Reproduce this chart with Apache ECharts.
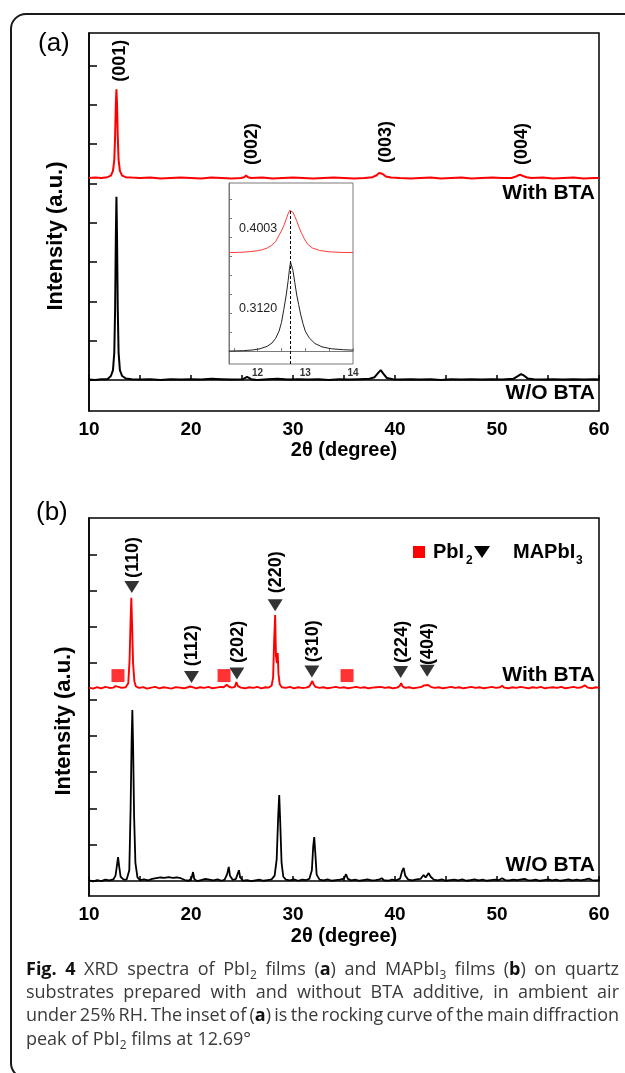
<!DOCTYPE html>
<html>
<head>
<meta charset="utf-8">
<script src="https://cdn.jsdelivr.net/npm/echarts@6/dist/echarts.min.js"></script>
<style>
  html, body { margin: 0; padding: 0; background: #fff; }
  #chart { width: 625px; height: 1073px; }
</style>
</head>
<body>
<div id="chart"></div>
<script>
// ---------- data: (a) PbI2 films, [2θ, intensity offset units] ----------
const pbi2WithBTA = [
  [10.0,5.14],[10.6,5.15],[11.2,5.14],[11.8,5.16],[12.15,5.2],[12.35,5.32],[12.48,5.6],[12.56,6.2],[12.63,7.0],[12.69,7.40],
  [12.75,7.0],[12.82,6.2],[12.9,5.6],[13.03,5.32],[13.25,5.2],[13.6,5.16],[14.2,5.15],[15.0,5.14],[16.0,5.15],[17.0,5.13],
  [18.0,5.14],[19.0,5.15],[20.0,5.14],[21.0,5.13],[22.0,5.15],[23.0,5.14],[24.0,5.13],[24.9,5.14],[25.2,5.16],[25.4,5.20],
  [25.6,5.16],[25.9,5.14],[27.0,5.15],[28.0,5.13],[29.0,5.14],[30.0,5.15],[31.0,5.14],[32.0,5.13],[33.0,5.14],[34.0,5.15],
  [35.0,5.14],[36.0,5.13],[37.0,5.14],[37.8,5.16],[38.2,5.21],[38.45,5.27],[38.6,5.29],[38.8,5.24],[39.1,5.18],[39.6,5.15],
  [40.5,5.14],[41.5,5.13],[42.5,5.14],[43.5,5.15],[44.5,5.13],[45.5,5.14],[46.5,5.15],[47.5,5.13],[48.5,5.14],[49.5,5.15],
  [50.5,5.14],[51.4,5.14],[51.8,5.17],[52.1,5.21],[52.3,5.22],[52.55,5.19],[52.9,5.16],[53.4,5.14],[54.5,5.15],[55.5,5.13],
  [56.5,5.14],[57.5,5.15],[58.5,5.13],[59.5,5.14],[60.0,5.14]
];
const pbi2WithoutBTA = [
  [10.0,0.01],[10.6,0.0],[11.2,0.02],[11.8,0.02],[12.15,0.1],[12.35,0.25],[12.48,0.7],[12.56,1.8],[12.63,3.6],[12.69,4.66],
  [12.75,3.6],[12.82,1.8],[12.9,0.7],[13.03,0.25],[13.25,0.1],[13.6,0.04],[14.2,0.02],[15.0,0.01],[16.0,0.02],[17.0,0.0],
  [18.0,0.02],[19.0,0.01],[20.0,0.02],[21.0,0.01],[22.0,0.03],[23.0,0.02],[24.0,0.01],[25.1,0.02],[25.5,0.08],[25.9,0.02],
  [26.5,0.0],[27.5,0.02],[28.5,0.03],[29.5,0.01],[30.5,0.02],[31.5,0.01],[32.5,0.02],[33.5,0.0],[34.5,0.02],[35.5,0.01],
  [36.5,0.02],[37.5,0.03],[38.0,0.07],[38.35,0.18],[38.6,0.25],[38.85,0.16],[39.2,0.05],[39.8,0.02],[40.5,0.01],[41.5,0.02],
  [42.5,0.01],[43.5,0.02],[44.5,0.0],[45.5,0.02],[46.5,0.01],[47.5,0.02],[48.5,0.01],[49.5,0.02],[50.5,0.01],[51.6,0.03],
  [52.0,0.09],[52.35,0.15],[52.6,0.12],[53.0,0.04],[53.6,0.02],[54.5,0.01],[55.5,0.02],[56.5,0.01],[57.5,0.02],[58.5,0.01],
  [59.5,0.02],[60.0,0.01]
];
// (a) reflection labels: [2θ, label bottom, text]
const pbi2Reflections = [[13.05,7.59,'(001)'],[25.98,5.47,'(002)'],[39.1,5.52,'(003)'],[52.45,5.47,'(004)']];

// ---------- inset: rocking curve of the 12.69° peak ----------
const rockingPeak = 12.69;
const rockingWithBTA = [
  [11.4,5.18],[11.6,5.19],[11.8,5.22],[12.0,5.28],[12.1,5.33],[12.2,5.42],[12.3,5.57],[12.38,5.76],[12.45,6.1],[12.5,6.32],
  [12.55,6.6],[12.6,6.95],[12.64,7.22],[12.67,7.4],[12.69,7.47],[12.71,7.42],[12.74,7.3],[12.78,7.08],[12.82,6.85],[12.87,6.5],
  [12.92,6.2],[12.98,5.9],[13.05,5.62],[13.15,5.42],[13.3,5.29],[13.5,5.22],[13.75,5.19],[14.0,5.18]
];
const rockingWithoutBTA = [
  [11.4,0.0],[11.7,0.02],[11.9,0.06],[12.05,0.12],[12.2,0.25],[12.3,0.42],[12.38,0.68],[12.45,1.05],[12.5,1.5],[12.55,2.2],
  [12.6,2.95],[12.64,3.7],[12.67,4.35],[12.69,4.68],[12.71,4.6],[12.74,4.25],[12.78,3.6],[12.82,2.95],[12.86,2.45],[12.9,1.95],
  [12.95,1.45],[13.0,1.05],[13.08,0.7],[13.2,0.4],[13.35,0.22],[13.55,0.12],[13.8,0.07],[14.0,0.05]
];
// FWHM notes: [2θ, y, text]
const rockingFwhm = [[11.61,6.42,'0.4003'],[11.61,2.26,'0.3120']];

// ---------- data: (b) MAPbI3 films ----------
const mapbi3WithBTA = [
  [10.0,5.33],[10.4,5.30],[10.8,5.34],[11.2,5.31],[11.6,5.35],[12.0,5.32],[12.4,5.33],[12.6,5.37],[12.75,5.41],[12.9,5.35],
  [13.2,5.32],[13.6,5.34],[13.85,5.45],[13.98,6.1],[14.08,7.2],[14.15,7.80],[14.22,7.1],[14.32,6.0],[14.45,5.5],[14.6,5.36],
  [14.9,5.32],[15.3,5.34],[15.7,5.30],[16.1,5.33],[16.5,5.35],[16.9,5.31],[17.3,5.34],[17.7,5.32],[18.1,5.30],[18.5,5.34],
  [18.9,5.33],[19.3,5.31],[19.7,5.34],[19.9,5.36],[20.0,5.41],[20.15,5.34],[20.5,5.31],[20.9,5.34],[21.3,5.32],[21.7,5.35],
  [22.1,5.31],[22.5,5.33],[22.9,5.35],[23.2,5.34],[23.5,5.41],[23.7,5.36],[24.0,5.33],[24.3,5.35],[24.45,5.48],[24.6,5.37],
  [24.9,5.33],[25.3,5.31],[25.7,5.34],[26.1,5.32],[26.5,5.35],[26.9,5.31],[27.3,5.34],[27.6,5.33],[27.9,5.38],[28.05,5.6],
  [28.15,6.6],[28.25,7.33],[28.33,6.2],[28.42,6.0],[28.5,6.28],[28.58,5.7],[28.7,5.42],[28.9,5.34],[29.3,5.32],[29.7,5.35],
  [30.1,5.31],[30.5,5.34],[30.9,5.32],[31.3,5.33],[31.6,5.36],[31.78,5.45],[31.9,5.51],[32.02,5.42],[32.2,5.35],[32.6,5.32],
  [33.0,5.34],[33.4,5.31],[33.8,5.33],[34.2,5.35],[34.6,5.32],[35.0,5.34],[35.4,5.31],[35.8,5.33],[36.2,5.35],[36.6,5.32],
  [37.0,5.34],[37.4,5.31],[37.8,5.33],[38.2,5.34],[38.6,5.35],[39.0,5.32],[39.4,5.34],[39.8,5.31],[40.2,5.33],[40.45,5.37],
  [40.6,5.45],[40.75,5.36],[41.0,5.32],[41.4,5.34],[41.8,5.31],[42.2,5.33],[42.6,5.35],[42.85,5.39],[43.0,5.37],[43.25,5.40],
  [43.5,5.35],[43.9,5.32],[44.3,5.34],[44.7,5.31],[45.1,5.33],[45.5,5.35],[45.9,5.32],[46.3,5.34],[46.7,5.31],[47.1,5.33],
  [47.5,5.35],[47.9,5.32],[48.3,5.34],[48.7,5.31],[49.1,5.33],[49.5,5.35],[49.9,5.32],[50.3,5.34],[50.5,5.38],[50.7,5.33],
  [51.1,5.31],[51.5,5.34],[51.9,5.32],[52.3,5.35],[52.7,5.33],[53.1,5.31],[53.5,5.34],[53.9,5.32],[54.3,5.35],[54.7,5.31],
  [55.1,5.33],[55.5,5.34],[55.9,5.32],[56.3,5.35],[56.7,5.31],[57.1,5.33],[57.5,5.35],[57.9,5.32],[58.3,5.34],[58.6,5.39],
  [58.9,5.33],[59.3,5.31],[59.7,5.34],[60.0,5.32]
];
const mapbi3WithoutBTA = [
  [10.0,0.02],[10.4,-0.01],[10.8,0.03],[11.2,0.0],[11.6,0.04],[12.0,0.02],[12.4,0.05],[12.6,0.15],[12.75,0.45],[12.85,0.66],
  [12.95,0.42],[13.1,0.12],[13.4,0.04],[13.7,0.05],[13.95,0.3],[14.08,2.0],[14.18,3.9],[14.25,4.71],[14.32,3.8],[14.42,1.8],
  [14.55,0.5],[14.75,0.1],[15.0,0.03],[15.4,0.05],[15.8,0.02],[16.2,0.06],[16.6,0.08],[17.0,0.1],[17.4,0.09],[17.8,0.11],
  [18.2,0.09],[18.6,0.1],[19.0,0.08],[19.4,0.03],[19.8,0.01],[20.05,0.08],[20.2,0.25],[20.32,0.06],[20.6,0.0],[21.0,0.03],
  [21.4,0.06],[21.8,0.04],[22.2,0.02],[22.6,0.05],[23.0,0.01],[23.3,0.04],[23.55,0.2],[23.7,0.39],[23.82,0.15],[24.1,0.03],
  [24.4,0.06],[24.6,0.22],[24.7,0.30],[24.82,0.1],[25.1,0.01],[25.5,0.03],[25.9,0.0],[26.3,0.02],[26.7,0.04],[27.1,0.01],
  [27.5,0.03],[27.9,0.05],[28.2,0.15],[28.4,0.6],[28.55,1.8],[28.65,2.37],[28.75,1.6],[28.88,0.5],[29.05,0.12],[29.3,0.04],
  [29.7,0.02],[30.1,0.05],[30.5,0.01],[30.9,0.04],[31.3,0.03],[31.6,0.06],[31.85,0.3],[31.98,0.95],[32.08,1.21],[32.18,0.8],
  [32.32,0.18],[32.6,0.04],[33.0,0.02],[33.4,0.05],[33.8,0.01],[34.2,0.03],[34.6,0.04],[35.0,0.07],[35.2,0.19],[35.38,0.06],
  [35.7,0.02],[36.1,0.04],[36.5,0.01],[36.9,0.03],[37.3,0.05],[37.7,0.02],[38.1,0.03],[38.5,0.05],[38.7,0.08],[38.9,0.03],
  [39.3,0.01],[39.7,0.04],[40.1,0.02],[40.5,0.07],[40.7,0.28],[40.85,0.36],[41.0,0.15],[41.3,0.04],[41.7,0.02],[42.1,0.05],
  [42.5,0.06],[42.8,0.17],[43.0,0.1],[43.3,0.22],[43.5,0.12],[43.8,0.04],[44.2,0.02],[44.6,0.05],[45.0,0.01],[45.4,0.03],
  [45.8,0.04],[46.2,0.02],[46.6,0.05],[47.0,0.01],[47.4,0.03],[47.8,0.05],[48.2,0.02],[48.6,0.04],[49.0,0.01],[49.4,0.03],
  [49.8,0.04],[50.2,0.03],[50.5,0.08],[50.8,0.03],[51.2,0.02],[51.6,0.04],[52.0,0.03],[52.4,0.05],[52.7,0.06],[53.0,0.03],
  [53.4,0.02],[53.8,0.04],[54.2,0.01],[54.6,0.03],[55.0,0.05],[55.4,0.02],[55.8,0.04],[56.2,0.01],[56.6,0.03],[57.0,0.05],
  [57.4,0.02],[57.8,0.04],[58.2,0.02],[58.6,0.04],[59.0,0.07],[59.3,0.03],[59.7,0.02],[60.0,0.03]
];
// phase markers [2θ, y]
const pbi2Marks = [[12.84,5.66],[23.24,5.66],[35.3,5.66]];
const mapbi3Marks = [[14.2,8.10],[20.05,5.62],[24.5,5.72],[28.25,7.60],[31.85,5.77],[40.55,5.76],[43.15,5.79]];
// (b) reflection labels: [2θ, label bottom, text]
const mapbi3Reflections = [[14.3,8.35,'(110)'],[20.12,5.92,'(112)'],[24.58,6.01,'(202)'],[28.32,7.93,'(220)'],
  [31.95,6.03,'(310)'],[40.7,6.01,'(224)'],[43.28,5.95,'(404)']];

// axis ranges and tick positions
const twoThetaRange = [10, 60];
const panelAIntensityRange = [-0.79, 8.83];
const panelATicks = [0, 1, 2, 3, 4, 5, 6, 7, 8];
const insetTwoThetaRange = [11.4, 14];
const insetTwoThetaTicks = [11.5, 12, 12.5, 13, 13.5, 14];
const insetTwoThetaLabels = [12, 13, 14];
const insetIntensityRange = [-0.68, 8.84];
const insetTicks = [0, 1, 2, 3, 4, 5, 6, 7, 8];
const panelBIntensityRange = [-0.41, 10];
const panelBTicks = [0, 1, 2, 3, 4, 5, 6, 7, 8, 9];

// caption runs: r = regular, b = bold, s = subscript
const captionLines = [
  [['b', 'Fig. 4'], ['r', ' XRD spectra of PbI'], ['s', '2'], ['r', ' films ('], ['b', 'a'], ['r', ') and MAPbI'], ['s', '3'],
   ['r', ' films ('], ['b', 'b'], ['r', ') on quartz']],
  [['r', 'substrates prepared with and without BTA additive, in ambient air']],
  [['r', 'under 25% RH. The inset of ('], ['b', 'a'], ['r', ') is the rocking curve of the main diffraction']],
  [['r', 'peak of PbI'], ['s', '2'], ['r', ' films at 12.69°']]
];

// ---------- styling ----------
const FONT = '"Liberation Sans", Arial, Helvetica, sans-serif';
const CAPTION_FONT = '"Open Sans", "Noto Sans", sans-serif';
const RED = '#ff0000';
const CAPTION = { left: 26, top: 958, width: 593, lineHeight: 23.3, size: 18, subSize: 12 };

function twoThetaAxis(gridIndex, nameGap) {
  return {
    gridIndex, type: 'value', min: twoThetaRange[0], max: twoThetaRange[1], interval: 5,
    axisLine: { lineStyle: { color: '#000', width: 1.5 } },
    axisTick: { inside: true, length: 5, lineStyle: { color: '#000', width: 1.5 } },
    axisLabel: { margin: 9, color: '#000', fontFamily: FONT, fontWeight: 'bold', fontSize: 19,
      formatter: v => (v % 10 === 0 ? String(v) : '') },
    splitLine: { show: false },
    name: '2θ (degree)', nameLocation: 'middle', nameGap,
    nameTextStyle: { color: '#000', fontFamily: FONT, fontWeight: 'bold', fontSize: 20 }
  };
}
function intensityAxis(gridIndex, range, ticks, tickLen, color) {
  return {
    gridIndex, type: 'value', min: range[0], max: range[1],
    axisLine: { lineStyle: { color, width: color === '#000' ? 1.5 : 1 } },
    axisTick: { inside: true, length: tickLen, customValues: ticks, lineStyle: { color, width: color === '#000' ? 1.5 : 1 } },
    axisLabel: { show: false },
    splitLine: { show: false }
  };
}
function spectrum(name, data, color, xi, width) {
  return { name, type: 'line', xAxisIndex: xi, yAxisIndex: xi, data, showSymbol: false, symbol: 'none',
    lineStyle: { color, width }, itemStyle: { color }, z: 3, silent: true };
}
// text placed at data points; rotated labels read upward from the point
function textSeries(data, xi, textStyle, rotated) {
  return { type: 'custom', coordinateSystem: 'cartesian2d', xAxisIndex: xi, yAxisIndex: xi, z: 5, silent: true,
    data: data.map(d => [d[0], d[1]]),
    renderItem: (params, api) => {
      const p = api.coord([api.value(0), api.value(1)]);
      return { type: 'text', x: p[0], y: p[1], rotation: rotated ? Math.PI / 2 : 0,
        style: Object.assign({ text: data[params.dataIndex][2], align: 'left', verticalAlign: 'middle' }, textStyle) };
    } };
}

// justified caption: each word becomes a rich text element, gaps stretched to the block width
function captionGraphics() {
  const ctx = document.createElement('canvas').getContext('2d');
  const fonts = {
    r: `${CAPTION.size}px ${CAPTION_FONT}`,
    b: `bold ${CAPTION.size}px ${CAPTION_FONT}`,
    s: `${CAPTION.subSize}px ${CAPTION_FONT}`
  };
  const measure = (style, t) => { ctx.font = fonts[style]; return ctx.measureText(t).width; };
  const rich = {
    r: { fontFamily: CAPTION_FONT, fontSize: CAPTION.size, fill: '#3a3a3a', lineHeight: CAPTION.lineHeight },
    b: { fontFamily: CAPTION_FONT, fontSize: CAPTION.size, fontWeight: 'bold', fill: '#111', lineHeight: CAPTION.lineHeight },
    s: { fontFamily: CAPTION_FONT, fontSize: CAPTION.subSize, fill: '#3a3a3a', lineHeight: 10, verticalAlign: 'bottom' }
  };
  const out = [];
  captionLines.forEach((runs, li) => {
    const words = [[]];
    runs.forEach(([style, text]) => {
      text.split(' ').forEach((part, i) => {
        if (i > 0) words.push([]);
        if (part) words[words.length - 1].push([style, part]);
      });
    });
    const ws = words.filter(w => w.length);
    const widths = ws.map(w => w.reduce((s, [st, t]) => s + measure(st, t), 0));
    const total = widths.reduce((a, b) => a + b, 0);
    const last = li === captionLines.length - 1;
    const gap = last ? measure('r', ' ') : (CAPTION.width - total) / (ws.length - 1);
    let x = CAPTION.left;
    ws.forEach((w, i) => {
      out.push({ type: 'text', x, y: CAPTION.top + li * CAPTION.lineHeight, silent: true,
        style: { text: w.map(([st, t]) => `{${st}|${t}}`).join(''), rich, align: 'left', verticalAlign: 'top',
          fontFamily: CAPTION_FONT, fontSize: CAPTION.size, lineHeight: CAPTION.lineHeight } });
      x += widths[i] + gap;
    });
  });
  return out;
}

const chart = echarts.init(document.getElementById('chart'), null, { renderer: 'canvas' });

const rockingTop = Math.max(...rockingWithBTA.map(d => d[1]));

const boldText = (x, y, text, size, align) => ({ type: 'text', x, y, silent: true,
  style: { text, fontFamily: FONT, fontWeight: 'bold', fontSize: size, fill: '#000', align, verticalAlign: 'middle' } });
const hklStyle = { fontFamily: FONT, fontWeight: 'bold', fontSize: 18, fill: '#000' };

const option = {
  animation: false,
  backgroundColor: '#fff',
  grid: [
    { left: 89, top: 33, width: 510, height: 378, show: true, borderColor: '#000', borderWidth: 1.5 },
    { left: 229, top: 183, width: 124, height: 181, show: true, borderColor: '#7a7a7a', borderWidth: 1, backgroundColor: '#fff' },
    { left: 89, top: 518, width: 510, height: 378, show: true, borderColor: '#000', borderWidth: 1.5 }
  ],
  xAxis: [
    twoThetaAxis(0, 29),
    {
      gridIndex: 1, type: 'value', min: insetTwoThetaRange[0], max: insetTwoThetaRange[1],
      axisLine: { lineStyle: { color: '#7a7a7a', width: 1 } },
      axisTick: { inside: true, length: 3, customValues: insetTwoThetaTicks, lineStyle: { color: '#7a7a7a' } },
      axisLabel: { customValues: insetTwoThetaLabels, margin: 4, color: '#333', fontFamily: FONT, fontWeight: 'bold', fontSize: 10 },
      splitLine: { show: false }
    },
    twoThetaAxis(2, 30)
  ],
  yAxis: [
    intensityAxis(0, panelAIntensityRange, panelATicks, 8, '#000'),
    intensityAxis(1, insetIntensityRange, insetTicks, 3, '#7a7a7a'),
    intensityAxis(2, panelBIntensityRange, panelBTicks, 8, '#000')
  ],
  series: [
    spectrum('With BTA', pbi2WithBTA, RED, 0, 2),
    spectrum('W/O BTA', pbi2WithoutBTA, '#000', 0, 2),
    textSeries(pbi2Reflections, 0, hklStyle, true),
    spectrum('With BTA', rockingWithBTA, '#ff3b3b', 1, 1),
    Object.assign(spectrum('W/O BTA', rockingWithoutBTA, '#222', 1, 1), {
      markLine: { silent: true, symbol: 'none', label: { show: false },
        lineStyle: { color: '#000', width: 1, type: [3, 2] },
        data: [[{ coord: [rockingPeak, insetIntensityRange[0]] }, { coord: [rockingPeak, rockingTop] }]] }
    }),
    textSeries(rockingFwhm, 1, { fontFamily: FONT, fontSize: 12.5, fill: '#222' }, false),
    spectrum('With BTA', mapbi3WithBTA, RED, 2, 1.9),
    spectrum('W/O BTA', mapbi3WithoutBTA, '#000', 2, 1.8),
    { name: 'PbI2', type: 'scatter', xAxisIndex: 2, yAxisIndex: 2, symbol: 'rect', symbolSize: [13, 13],
      itemStyle: { color: RED }, data: pbi2Marks, z: 6, silent: true },
    { name: 'MAPbI3', type: 'scatter', xAxisIndex: 2, yAxisIndex: 2, symbol: 'triangle', symbolRotate: 180,
      symbolSize: [15, 12], itemStyle: { color: '#000' }, data: mapbi3Marks, z: 6, silent: true },
    textSeries(mapbi3Reflections, 2, hklStyle, true)
  ],
  graphic: [
    // figure frame
    { type: 'rect', shape: { x: 11, y: 14, width: 700, height: 1064, r: 15 },
      style: { fill: 'none', stroke: '#1a1a1a', lineWidth: 2 }, z: 10, silent: true },
    // panel letters
    { type: 'text', x: 38, y: 44, silent: true, style: { text: '(a)', fontFamily: FONT, fontSize: 26, fill: '#000', align: 'left', verticalAlign: 'middle' } },
    { type: 'text', x: 36, y: 513, silent: true, style: { text: '(b)', fontFamily: FONT, fontSize: 26, fill: '#000', align: 'left', verticalAlign: 'middle' } },
    // intensity titles
    Object.assign(boldText(56, 236, 'Intensity (a.u.)', 22, 'center'), { rotation: Math.PI / 2 }),
    Object.assign(boldText(64, 721, 'Intensity (a.u.)', 22, 'center'), { rotation: Math.PI / 2 }),
    // sample names
    boldText(595, 193, 'With BTA', 21, 'right'),
    boldText(595, 393, 'W/O BTA', 21, 'right'),
    boldText(595, 675, 'With BTA', 21, 'right'),
    boldText(595, 865, 'W/O BTA', 21, 'right'),
    // phase key
    { type: 'rect', shape: { x: 413, y: 546, width: 12, height: 12 }, style: { fill: RED }, silent: true },
    boldText(433, 552, 'PbI', 20, 'left'),
    boldText(466, 561, '2', 12, 'left'),
    { type: 'polygon', shape: { points: [[474, 546], [490, 546], [482, 558]] }, style: { fill: '#000' }, silent: true },
    boldText(513, 552, 'MAPbI', 20, 'left'),
    boldText(576, 561, '3', 12, 'left'),
    ...captionGraphics()
  ]
};
chart.setOption(option);
</script>
</body>
</html>
